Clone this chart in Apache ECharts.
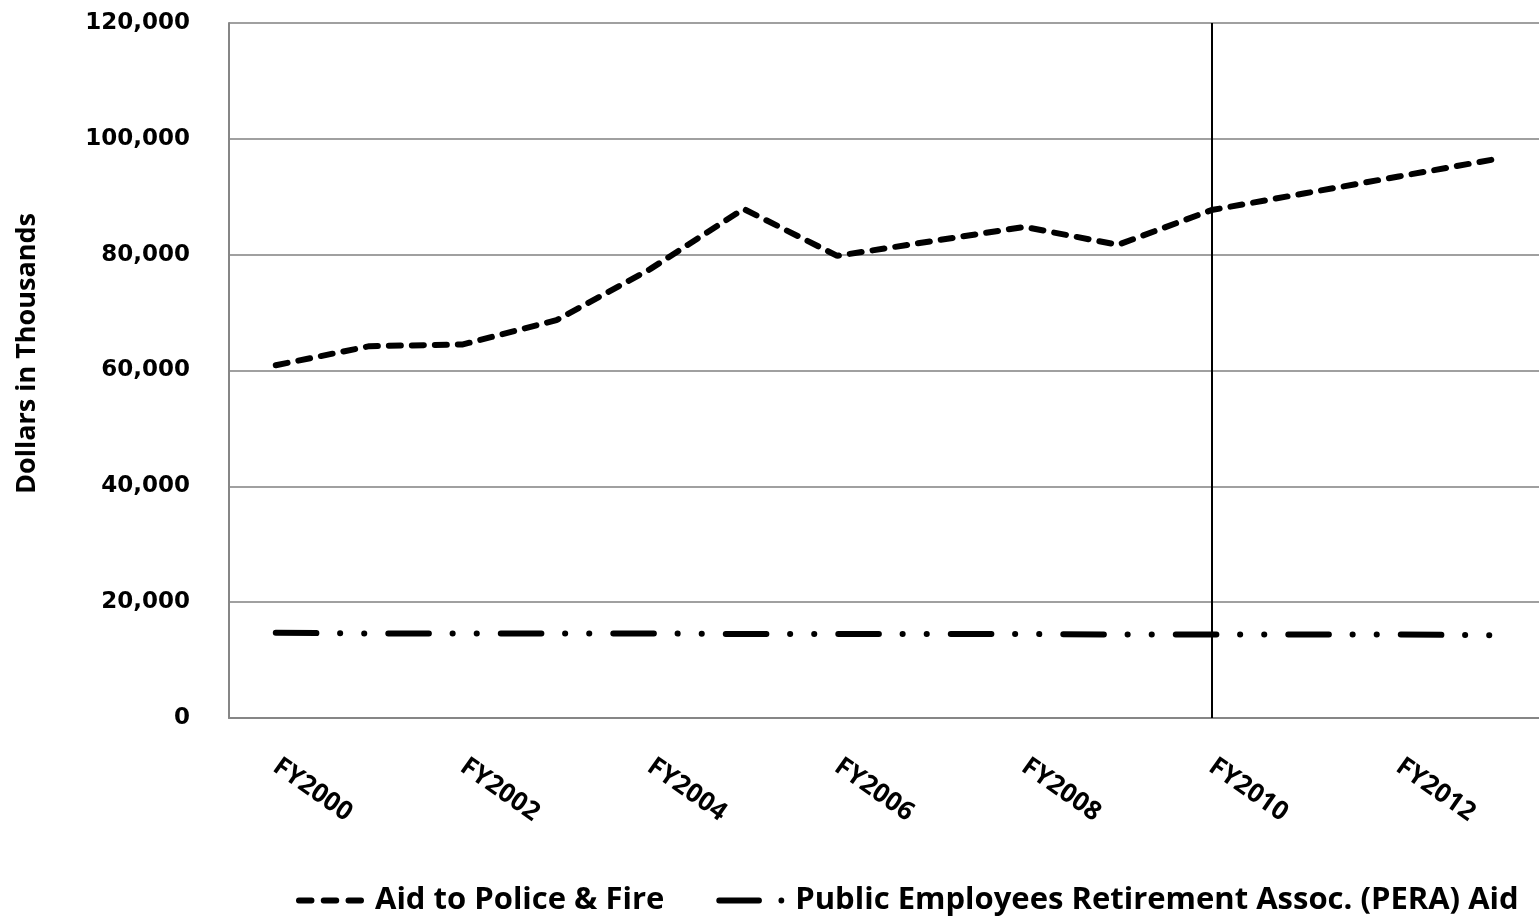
<!DOCTYPE html>
<html>
<head>
<meta charset="utf-8">
<script src="https://cdn.jsdelivr.net/npm/echarts@6/dist/echarts.min.js"></script>
<style>
html,body{margin:0;padding:0;background:#fff;}
#chart{width:1539px;height:920px;}
</style>
</head>
<body>
<div id="chart"></div>
<script>
const categories = ['FY2000','FY2001','FY2002','FY2003','FY2004','FY2005','FY2006','FY2007','FY2008','FY2009','FY2010','FY2011','FY2012','FY2013'];
const policeFire = [60900, 64200, 64500, 68700, 77500, 87900, 79800, 82300, 84800, 81700, 87700, 90600, 93500, 96400];
const pera = [14700, 14600, 14600, 14600, 14600, 14500, 14500, 14500, 14500, 14400, 14400, 14400, 14400, 14300];
const seriesNames = ['Aid to Police & Fire', 'Public Employees Retirement Assoc. (PERA) Aid'];
const yTicks = { min: 0, max: 120000, interval: 20000 };
const markerCategory = 'FY2010';

const iconDashed = 'path://M3,0 H16 A3,3 0 0 1 16,6 H3 A3,3 0 0 1 3,0 Z M28.5,0 H41.5 A3,3 0 0 1 41.5,6 H28.5 A3,3 0 0 1 28.5,0 Z M54,0 H67 A3,3 0 0 1 67,6 H54 A3,3 0 0 1 54,0 Z';
const iconDashDot = 'path://M3,0 H44 A3,3 0 0 1 44,6 H3 A3,3 0 0 1 3,0 Z M67,0 A3,3 0 0 1 67,6 A3,3 0 0 1 67,0 Z';

const chart = echarts.init(document.getElementById('chart'));
chart.setOption({
  animation: false,
  backgroundColor: '#fff',
  grid: { left: 229, right: 0, top: 23, bottom: 202, containLabel: false },
  xAxis: {
    type: 'category',
    data: categories,
    boundaryGap: true,
    axisLine: { show: true, lineStyle: { color: '#868686', width: 2 } },
    axisTick: { show: false },
    axisLabel: {
      interval: 1,
      rotate: -35,
      margin: 46,
      fontFamily: 'Open Sans',
      fontWeight: 'bold',
      fontSize: 26,
      color: '#000'
    },
    splitLine: { show: false }
  },
  yAxis: {
    type: 'value',
    min: yTicks.min, max: yTicks.max, interval: yTicks.interval,
    name: 'Dollars in Thousands',
    nameLocation: 'middle',
    nameGap: 188,
    nameRotate: 90,
    nameTextStyle: { fontFamily: 'Open Sans', fontWeight: 'bold', fontSize: 27, color: '#000', padding: [0, 0, 0, 34] },
    axisLine: { show: true, lineStyle: { color: '#868686', width: 2 } },
    axisTick: { show: false },
    axisLabel: {
      margin: 39,
      fontFamily: 'DejaVu Sans',
      fontWeight: 'bold',
      fontSize: 23,
      color: '#000',
      formatter: v => v.toLocaleString('en-US')
    },
    splitLine: { show: true, lineStyle: { color: '#a0a0a0', width: 2 } }
  },
  legend: {
    top: 880,
    left: 291,
    itemWidth: 68,
    itemHeight: 6,
    itemGap: 52,
    itemStyle: { borderWidth: 0 },
    textStyle: { fontFamily: 'Open Sans', fontWeight: 'bold', fontSize: 31, color: '#000', padding: [0, 0, 0, 6] },
    data: [
      { name: seriesNames[0], icon: iconDashed },
      { name: seriesNames[1], icon: iconDashDot }
    ]
  },
  series: [
    {
      name: seriesNames[0],
      type: 'line',
      data: policeFire,
      symbol: 'none',
      lineStyle: { color: '#000', width: 6, type: [12, 11], cap: 'round' },
      itemStyle: { color: '#000' },
      markLine: {
        silent: true,
        symbol: 'none',
        label: { show: false },
        lineStyle: { color: '#000', width: 2, type: 'solid' },
        data: [{ xAxis: markerCategory }]
      }
    },
    {
      name: seriesNames[1],
      type: 'line',
      data: pera,
      symbol: 'none',
      lineStyle: { color: '#000', width: 6, type: [40.6, 23.7, 0.1, 24, 0.1, 24], cap: 'round' },
      itemStyle: { color: '#000' }
    }
  ]
});
</script>
</body>
</html>
